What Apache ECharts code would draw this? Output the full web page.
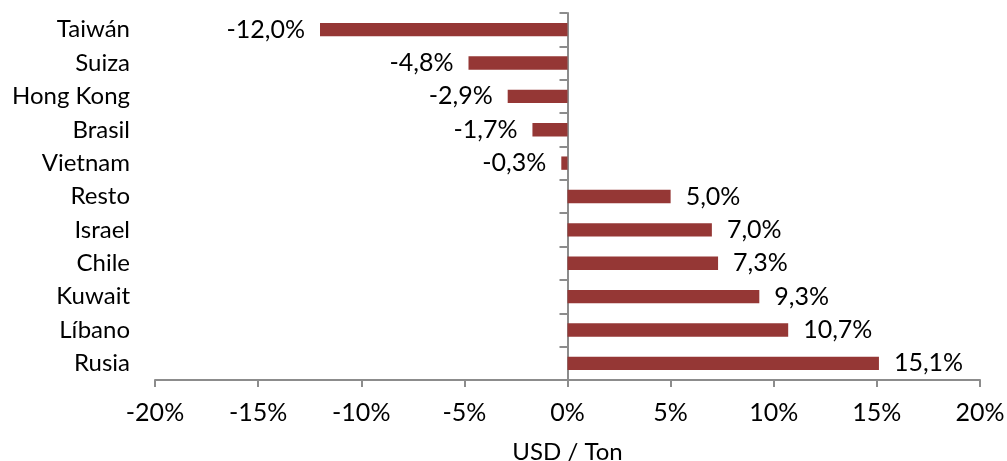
<!DOCTYPE html>
<html>
<head>
<meta charset="utf-8">
<script src="https://cdn.jsdelivr.net/npm/echarts@6/dist/echarts.min.js"></script>
<style>
html, body { margin: 0; padding: 0; background: #fff; }
#chart { width: 1007px; height: 461px; }
</style>
</head>
<body>
<div id="chart"></div>
<script>
// categories top to bottom (reversed for the category axis)
const countries = ['Taiwán', 'Suiza', 'Hong Kong', 'Brasil', 'Vietnam', 'Resto', 'Israel', 'Chile', 'Kuwait', 'Líbano', 'Rusia'];
const changes = [-12.0, -4.8, -2.9, -1.7, -0.3, 5.0, 7.0, 7.3, 9.3, 10.7, 15.1];
const xTicks = [-20, -15, -10, -5, 0, 5, 10, 15, 20];

const cats = countries.slice().reverse();
const vals = changes.slice().reverse();
const font = 'Lato, "Open Sans", sans-serif';
const axisGrey = '#8c8c8c';
const gridRect = { left: 155, right: 27, top: 13, bottom: 81, outerBoundsMode: 'none', containLabel: false };

const chart = echarts.init(document.getElementById('chart'));
chart.setOption({
 animation: false,
 // two grids on the same rect: one for labels, one for the zero-positioned axis line
 grid: [Object.assign({}, gridRect), Object.assign({}, gridRect)],
 xAxis: [
  {
   type: 'value',
   gridIndex: 0,
   min: xTicks[0],
   max: xTicks[xTicks.length - 1],
   interval: 5,
   name: 'USD / Ton',
   nameLocation: 'middle',
   nameGap: 60,
   nameTextStyle: { fontFamily: font, fontSize: 24, color: '#000' },
   axisLine: { show: true, lineStyle: { color: axisGrey, width: 2 } },
   axisTick: { show: true, length: 7, lineStyle: { color: axisGrey, width: 2 } },
   splitLine: { show: false },
   axisLabel: {
    fontFamily: font, fontSize: 25, color: '#000', margin: 20,
    formatter: v => v + '%'
   }
  },
  {
   type: 'value',
   gridIndex: 1,
   min: xTicks[0],
   max: xTicks[xTicks.length - 1],
   interval: 5,
   show: false
  }
 ],
 yAxis: [
  {
   type: 'category',
   gridIndex: 0,
   data: cats,
   axisLine: { show: false, onZero: false },
   axisTick: { show: false },
   axisLabel: { fontFamily: font, fontSize: 24, color: '#000', margin: 25 }
  },
  {
   type: 'category',
   gridIndex: 1,
   data: cats,
   axisLine: { show: true, onZero: true, lineStyle: { color: axisGrey, width: 2 } },
   axisTick: { show: true, length: 8, lineStyle: { color: axisGrey, width: 2 } },
   axisLabel: { show: false }
  }
 ],
 series: [{
  type: 'bar',
  xAxisIndex: 0,
  yAxisIndex: 0,
  data: vals.map(v => ({
   value: v,
   label: { position: v < 0 ? 'left' : 'right' }
  })),
  barWidth: '40%',
  itemStyle: { color: '#953735' },
  label: {
   show: true,
   distance: 15,
   fontFamily: font, fontSize: 25, color: '#000',
   formatter: p => p.value.toFixed(1).replace('.', ',') + '%'
  }
 }]
});
</script>
</body>
</html>
